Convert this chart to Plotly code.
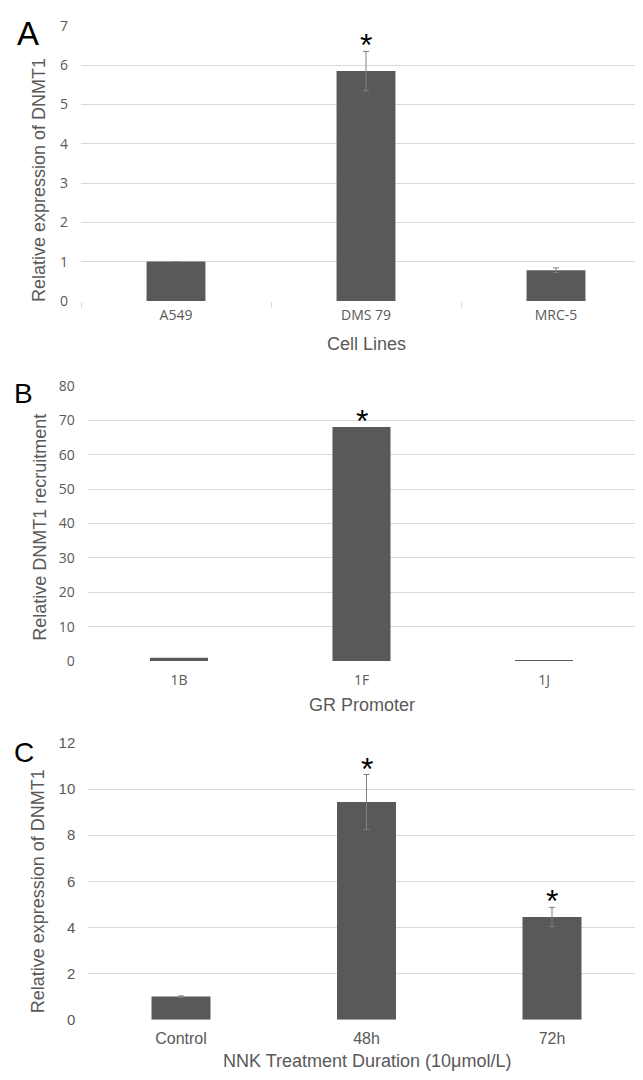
import plotly.graph_objects as go

# Panel A
cells = ["A549", "DMS 79", "MRC-5"]
expr_a = [1.0, 5.85, 0.78]
err_a = [0.0, 0.5, 0.06]
sig_a = [False, True, False]

# Panel B
promoters = ["1B", "1F", "1J"]
recruit_b = [0.96, 68.1, 0.2]
sig_b = [False, True, False]

# Panel C
durations = ["Control", "48h", "72h"]
expr_c = [1.0, 9.44, 4.45]
err_c = [0.03, 1.19, 0.42]
sig_c = [False, True, True]

BAR = "#595959"
TXT = "#595959"
GRID = "#d9d9d9"
ERR = "#808080"

# page body has an 8px default margin; compensate so screen px map correctly
OFF = 8
W = 643 - OFF
H = 1080 - OFF


def px(x):
    return (x - OFF) / W


def py(y):
    return 1 - (y - OFF) / H


fig = go.Figure()

fig.add_trace(go.Bar(x=cells, y=expr_a, marker=dict(color=BAR, line=dict(width=0)), width=0.31,
                     error_y=dict(type="data", array=err_a, color=ERR, thickness=1, width=3),
                     xaxis="x", yaxis="y", showlegend=False, hoverinfo="x+y"))
fig.add_trace(go.Bar(x=promoters, y=recruit_b, marker=dict(color=BAR, line=dict(width=0)), width=0.318,
                     xaxis="x2", yaxis="y2", showlegend=False, hoverinfo="x+y"))
fig.add_trace(go.Bar(x=durations, y=expr_c, marker=dict(color=BAR, line=dict(width=0)), width=0.318,
                     error_y=dict(type="data", array=err_c, color=ERR, thickness=1, width=3),
                     xaxis="x3", yaxis="y3", showlegend=False, hoverinfo="x+y"))

tick_font_ab = dict(family="Open Sans", size=14, color=TXT)
tick_font_cx = dict(family="Liberation Sans", size=16, color=TXT)
tick_font_cy = dict(family="Liberation Sans", size=15, color=TXT)

common_x = dict(showgrid=False, zeroline=False, showline=False, ticks="", type="category")
common_y = dict(showgrid=True, gridcolor=GRID, gridwidth=1, zeroline=False, showline=False,
                ticks="", ticklabelstandoff=12)

fig.update_layout(
    width=W, height=H,
    margin=dict(l=0, r=0, t=0, b=0),
    paper_bgcolor="white", plot_bgcolor="white",
    xaxis=dict(common_x, domain=[px(81), px(643)], range=[-0.5, -0.5 + (643 - 81) / 190.0], anchor="y",
               tickfont=tick_font_ab, ticks="outside", tickson="boundaries", ticklen=6,
               tickcolor=GRID, ticklabelstandoff=4),
    yaxis=dict(common_y, domain=[py(296), py(16)], range=[0, 7], dtick=1, anchor="x",
               tickfont=tick_font_ab),
    xaxis2=dict(common_x, domain=[px(87.75), px(635.25)], range=[-0.5, 2.5], anchor="y2",
                tickfont=tick_font_ab, ticklabelstandoff=9),
    yaxis2=dict(common_y, domain=[py(662.7), py(382.7)], range=[0, 80], dtick=10, anchor="x2",
                tickfont=tick_font_ab),
    xaxis3=dict(common_x, domain=[px(88.25), px(643)], range=[-0.5, -0.5 + (643 - 88.25) / 185.5],
                anchor="y3", tickfont=tick_font_cx, ticklabelstandoff=7),
    yaxis3=dict(common_y, domain=[py(1027.7), py(746)], range=[0, 12], dtick=2, anchor="x3",
                tickfont=tick_font_cy),
)

ann = []
title_font = dict(family="Liberation Sans", size=18, color=TXT)
# y-axis titles
for txt, cx, cy in [("Relative expression of DNMT1", 39, 173),
                    ("Relative DNMT1 recruitment", 40, 527),
                    ("Relative expression of DNMT1", 38, 897)]:
    ann.append(dict(text=txt, xref="paper", yref="paper", x=px(cx), y=py(cy),
                    xanchor="center", yanchor="middle", textangle=-90, showarrow=False,
                    font=title_font))
# x-axis titles
for txt, cx, cy in [("Cell Lines", 366, 340), ("GR Promoter", 362, 707),
                    ("NNK Treatment Duration (10μmol/L)", 367, 1070)]:
    ann.append(dict(text=txt, xref="paper", yref="paper", x=px(cx), y=py(cy),
                    xanchor="center", yanchor="middle", showarrow=False, font=title_font))
# panel letters
for txt, cx, cy, sz in [("A", 28, 24, 33), ("B", 23, 390, 28), ("C", 24, 756, 28)]:
    ann.append(dict(text=txt, xref="paper", yref="paper", x=px(cx), y=py(cy),
                    xanchor="center", yanchor="middle", showarrow=False,
                    font=dict(family="Liberation Sans", size=sz, color="black")))
# asterisks
for xa, ya, cats, vals, errs, sig in [("x", "y", cells, expr_a, err_a, sig_a),
                                       ("x2", "y2", promoters, recruit_b, [0, 0, 0], sig_b),
                                       ("x3", "y3", durations, expr_c, err_c, sig_c)]:
    for c, v, e, s in zip(cats, vals, errs, sig):
        if s:
            ann.append(dict(text="*", xref=xa, yref=ya, x=c, y=v + e, xanchor="center",
                            yanchor="bottom", yshift=-14, showarrow=False,
                            font=dict(family="Liberation Sans", size=32, color="black")))

fig.update_layout(annotations=ann)
fig.write_html("out.html")
